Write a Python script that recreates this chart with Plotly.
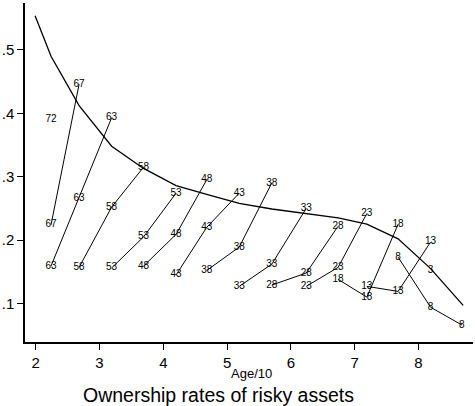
import plotly.graph_objects as go

# Age/10 positions at which cohorts are observed
ages = [2.24, 2.68, 3.19, 3.69, 4.20, 4.68, 5.19, 5.70, 6.24, 6.74, 7.19, 7.68, 8.19, 8.68]

# Smooth age profile of ownership
profile_x = [1.99, 2.24, 2.68, 3.19, 3.69, 4.20, 4.68, 5.19, 5.70, 6.24, 6.74, 7.19, 7.68, 8.19, 8.70]
profile_y = [0.554, 0.490, 0.412, 0.348, 0.313, 0.286, 0.272, 0.258, 0.249, 0.242, 0.235, 0.225, 0.202, 0.155, 0.097]

# Cohort lines: label, index of first observed age, observed ownership rates
cohort_labels = ["72", "67", "63", "58", "53", "48", "43", "38", "33", "28", "23", "18", "13", "8", "3"]
cohort_start = [0, 0, 0, 1, 2, 3, 4, 5, 6, 7, 8, 9, 10, 11, 12]
cohort_rates = [
    [0.391],
    [0.224, 0.446],
    [0.159, 0.266, 0.393],
    [0.157, 0.252, 0.315],
    [0.156, 0.205, 0.274],
    [0.159, 0.209, 0.295],
    [0.145, 0.220, 0.274],
    [0.152, 0.189, 0.290],
    [0.127, 0.162, 0.250],
    [0.129, 0.148, 0.222],
    [0.127, 0.157, 0.242],
    [0.138, 0.110, 0.225],
    [0.127, 0.119, 0.197],
    [0.173, 0.094, 0.066],
    [0.152],
]

x_ticks = [2, 3, 4, 5, 6, 7, 8]
y_ticks = [0.1, 0.2, 0.3, 0.4, 0.5]
y_tick_text = [".1", ".2", ".3", ".4", ".5"]

FONT = "Liberation Sans Narrow, Liberation Sans, Arial Narrow, Arial, sans-serif"

fig = go.Figure()

fig.add_trace(go.Scatter(
    x=profile_x, y=profile_y, mode="lines",
    line=dict(color="black", width=1.3), hoverinfo="skip", showlegend=False,
))

for lab, start, rates in zip(cohort_labels, cohort_start, cohort_rates):
    xs = ages[start:start + len(rates)]
    fig.add_trace(go.Scatter(
        x=xs, y=rates, mode="lines+text",
        text=[lab] * len(rates), textposition="middle center",
        textfont=dict(family=FONT, size=10, color="#000000"),
        line=dict(color="black", width=1), showlegend=False,
    ))

fig.update_layout(
    template="none",
    width=475, height=406,
    margin=dict(l=25, r=2, t=3, b=64.3),
    paper_bgcolor="white", plot_bgcolor="white",
    font=dict(family=FONT, color="black"),
    showlegend=False,
    xaxis=dict(
        range=[1.832, 8.854], tickvals=x_ticks, ticktext=[str(t) for t in x_ticks],
        showgrid=False, zeroline=False, showline=True, linecolor="black", linewidth=1.5,
        ticks="outside", ticklen=6, tickcolor="black", tickwidth=1,
        tickfont=dict(family=FONT, size=15, color="black"),
    ),
    yaxis=dict(
        range=[0.0392, 0.574], tickvals=y_ticks, ticktext=y_tick_text,
        showgrid=False, zeroline=False, showline=True, linecolor="black", linewidth=1.5,
        ticks="outside", ticklen=6, tickcolor="black", tickwidth=1,
        tickfont=dict(family=FONT, size=15, color="black"),
    ),
    annotations=[
        dict(text="Age/10", xref="paper", yref="paper", x=0.505, y=-0.092,
             xanchor="center", yanchor="middle", showarrow=False, borderpad=0,
             font=dict(family=FONT, size=13, color="black")),
        dict(text="Ownership rates of risky assets", xref="paper", yref="paper",
             x=0.433, y=-0.155, xanchor="center", yanchor="middle", showarrow=False,
             borderpad=0, font=dict(family=FONT, size=19.5, color="black")),
    ],
)

fig.write_html("out.html", config={"displayModeBar": False},
               post_script="document.body.style.margin='0px';")
